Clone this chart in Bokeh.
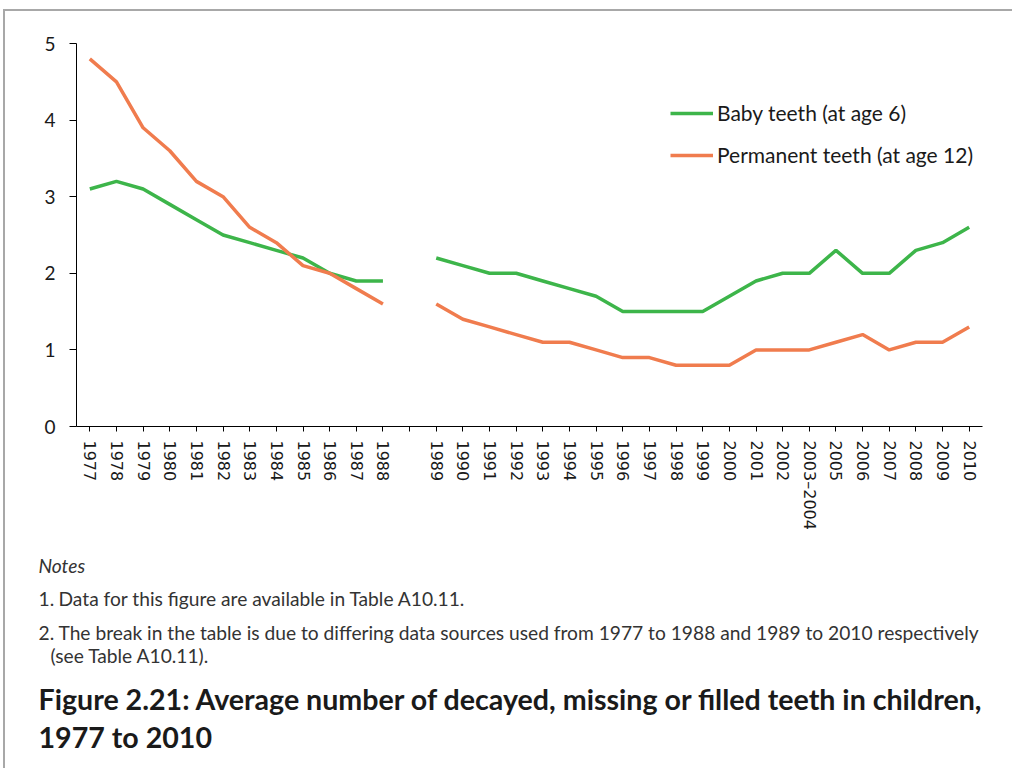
from bokeh.plotting import figure
from bokeh.models import FactorRange, Range1d, FixedTicker, Legend, LegendItem, Label
from bokeh.embed import file_html
from bokeh.resources import INLINE

# ---------------- data ----------------
years_a = ["1977", "1978", "1979", "1980", "1981", "1982", "1983", "1984",
           "1985", "1986", "1987", "1988"]
gap = [" "]
years_b = ["1989", "1990", "1991", "1992", "1993", "1994", "1995", "1996",
           "1997", "1998", "1999", "2000", "2001", "2002", "2003\u20132004",
           "2005", "2006", "2007", "2008", "2009", "2010"]

baby_a = [3.1, 3.2, 3.1, 2.9, 2.7, 2.5, 2.4, 2.3, 2.2, 2.0, 1.9, 1.9]
perm_a = [4.8, 4.5, 3.9, 3.6, 3.2, 3.0, 2.6, 2.4, 2.1, 2.0, 1.8, 1.6]
baby_b = [2.2, 2.1, 2.0, 2.0, 1.9, 1.8, 1.7, 1.5, 1.5, 1.5, 1.5, 1.7, 1.9,
          2.0, 2.0, 2.3, 2.0, 2.0, 2.3, 2.4, 2.6]
perm_b = [1.6, 1.4, 1.3, 1.2, 1.1, 1.1, 1.0, 0.9, 0.9, 0.8, 0.8, 0.8, 1.0,
          1.0, 1.0, 1.1, 1.2, 1.0, 1.1, 1.1, 1.3]

y_ticks = [0, 1, 2, 3, 4, 5]
series_labels = ["Baby teeth (at age 6)", "Permanent teeth (at age 12)"]

notes_heading = "Notes"
note_numbers = ["1.", "2."]
note_lines = [
    "Data for this figure are available in Table A10.11.",
    "The break in the table is due to differing data sources used from 1977 to 1988 and 1989 to 2010 respectively",
    "(see Table A10.11).",
]
title_lines = [
    "Figure 2.21: Average number of decayed, missing or filled teeth in children,",
    "1977 to 2010",
]

GREEN = "#3DB54A"
ORANGE = "#F07C4E"
FRAME = "2px solid #a8a8a8"

# ---------------- chart ----------------
factors = years_a + gap + years_b
p = figure(
    x_range=FactorRange(factors=factors),
    y_range=Range1d(0, 5),
    frame_width=906, frame_height=383,
    min_border_left=71, min_border_right=30,
    min_border_top=32, min_border_bottom=120,
    output_backend="svg", toolbar_location=None,
    outline_line_color=None,
    margin=(9, 0, 0, 3),
    styles={"border-top": FRAME, "border-left": FRAME},
)
p.xgrid.visible = False
p.ygrid.visible = False

g1 = p.line(years_a, baby_a, line_color=GREEN, line_width=3.5)
o1 = p.line(years_a, perm_a, line_color=ORANGE, line_width=3.5)
g2 = p.line(years_b, baby_b, line_color=GREEN, line_width=3.5)
o2 = p.line(years_b, perm_b, line_color=ORANGE, line_width=3.5)

p.xaxis.major_label_orientation = "vertical"
p.xaxis.major_tick_out = 5
p.xaxis.major_tick_in = 0
p.xaxis.axis_line_color = "black"
p.xaxis.major_tick_line_color = "black"
p.xaxis.major_label_text_font = "DejaVu Sans"
p.xaxis.major_label_text_font_size = "16px"
p.xaxis.major_label_text_color = "#1a1a1a"
p.xaxis.major_label_standoff = 9

p.yaxis.ticker = FixedTicker(ticks=y_ticks)
p.yaxis.major_tick_out = 7
p.yaxis.major_tick_in = 0
p.yaxis.minor_tick_out = 0
p.yaxis.minor_tick_in = 0
p.yaxis.axis_line_color = "black"
p.yaxis.major_tick_line_color = "black"
p.yaxis.major_label_text_font = "Lato"
p.yaxis.major_label_text_font_size = "19px"
p.yaxis.major_label_text_color = "#1a1a1a"
p.yaxis.major_label_standoff = 14

legend = Legend(
    items=[LegendItem(label=series_labels[0], renderers=[g1]),
           LegendItem(label=series_labels[1], renderers=[o1])],
    location=(594, 259),
    glyph_width=43, glyph_height=20, label_height=20,
    label_standoff=4, spacing=17, padding=0, margin=0,
    border_line_color=None, background_fill_alpha=0,
    label_text_font="Lato", label_text_font_size="21px",
    label_text_color="#1a1a1a",
)
p.add_layout(legend)

# ---------------- notes & title panel ----------------
q = figure(
    x_range=Range1d(0, 1007), y_range=Range1d(0, 222),
    width=1007, height=222,
    x_axis_location=None, y_axis_location=None,
    min_border=0, min_border_left=0, min_border_right=0,
    min_border_top=0, min_border_bottom=0,
    output_backend="svg", toolbar_location=None,
    outline_line_color=None,
    margin=(0, 0, 0, 3),
    styles={"border-left": FRAME},
)
q.grid.visible = False


def lab(text, x, y, size, style="normal", color="#333333"):
    q.add_layout(Label(x=x, y=y, x_units="screen", y_units="screen", text=text,
                       text_font="Lato", text_font_size=size,
                       text_font_style=style, text_color=color,
                       text_baseline="middle", text_align="left"))


NOTE = "19.2px"
TITLE = "28.6px"
lab(notes_heading, 33, 203, NOTE, "italic")
lab(note_numbers[0], 33, 170, NOTE)
lab(note_lines[0], 53, 170, NOTE)
lab(note_numbers[1], 33, 136, NOTE)
lab(note_lines[1], 53, 136, NOTE)
lab(note_lines[2], 45, 113, NOTE)
lab(title_lines[0], 33, 70, TITLE, "bold", "#1a1a1a")
lab(title_lines[1], 33, 32, TITLE, "bold", "#1a1a1a")

open("out.html", "w").write(file_html([p, q], INLINE))
